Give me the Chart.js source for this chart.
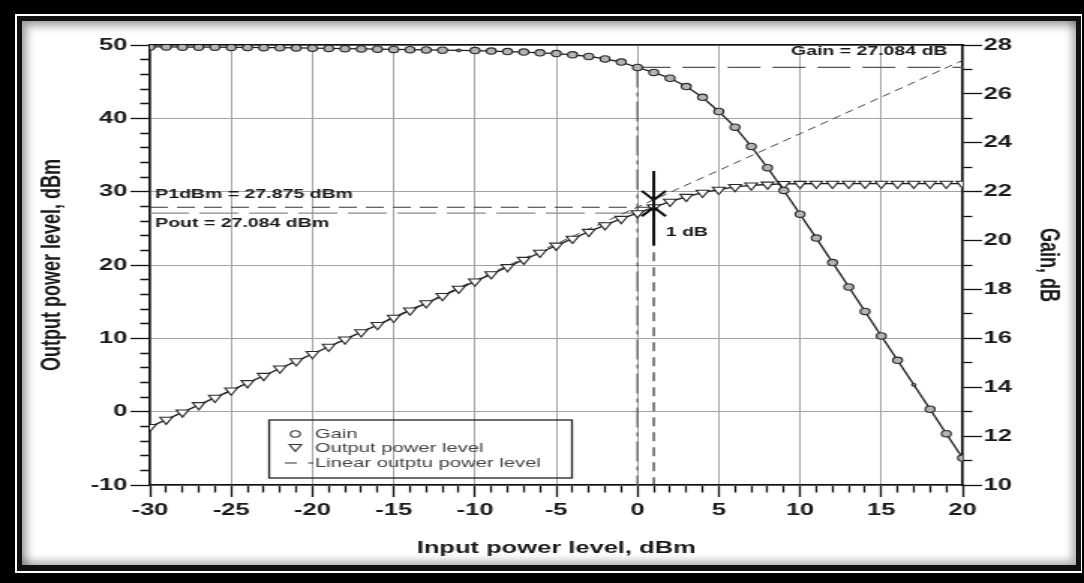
<!DOCTYPE html>
<html>
<head>
<meta charset="utf-8">
<title>Gain and output power vs input power</title>
<script src="https://cdn.jsdelivr.net/npm/chart.js@4.4.0/dist/chart.umd.min.js"></script>
<style>
  html, body { margin: 0; padding: 0; width: 1084px; height: 583px; overflow: hidden; background: #000; }
  #frameOuter { position: absolute; left: 15px; top: 14px; width: 1067px; height: 559px; background: #fff; }
  #framePanel {
    position: absolute; left: 17px; top: 16px; width: 1064px; height: 555px; box-sizing: border-box;
    border: 5px solid #111; border-bottom-width: 6px; background: #fff;
    box-shadow: inset 5px 5px 9px rgba(0,0,0,0.35), inset -4px -4px 8px rgba(0,0,0,0.3);
  }
  /* the source picture is stretched sideways, so the chart is too */
  #chartWrap { position: absolute; left: 0; top: 0; width: 723px; height: 583px; transform: scaleX(1.4993); transform-origin: 0 0; }
</style>
</head>
<body>
<div id="frameOuter"></div>
<div id="framePanel"></div>
<div id="chartWrap"><canvas id="chart" width="723" height="583"></canvas></div>
<script>
// Input power sweep, dBm
const inputPower = [-30, -29, -28, -27, -26, -25, -24, -23, -22, -21, -20, -19, -18, -17, -16, -15, -14, -13, -12, -11,
                    -10, -9, -8, -7, -6, -5, -4, -3, -2, -1, 0, 1, 2, 3, 4, 5, 6, 7, 8, 9,
                    10, 11, 12, 13, 14, 15, 16, 17, 18, 19, 20];
// Gain, dB (right axis)
const gainDb = [27.92, 27.92, 27.91, 27.91, 27.91, 27.90, 27.90, 27.89, 27.89, 27.88, 27.87, 27.86, 27.85, 27.84, 27.83, 27.82, 27.81, 27.80, 27.79, 27.78,
                27.77, 27.75, 27.73, 27.71, 27.68, 27.65, 27.60, 27.53, 27.43, 27.30, 27.08, 26.88, 26.64, 26.30, 25.86, 25.28, 24.64, 23.85, 22.98, 22.05,
                21.08, 20.10, 19.10, 18.10, 17.10, 16.10, 15.10, 14.10, 13.10, 12.10, 11.10];
// Output power level, dBm (left axis)
const outputPower = [-2.08, -1.08, -0.09, 0.91, 1.91, 2.90, 3.90, 4.89, 5.89, 6.88, 7.87, 8.86, 9.85, 10.84, 11.83, 12.82, 13.81, 14.80, 15.79, 16.78,
                     17.77, 18.75, 19.73, 20.71, 21.68, 22.65, 23.60, 24.53, 25.43, 26.30, 27.08, 27.88, 28.64, 29.30, 29.86, 30.28, 30.64, 30.85, 30.98, 31.05,
                     31.08, 31.10, 31.10, 31.10, 31.10, 31.10, 31.10, 31.10, 31.10, 31.10, 31.10];
// Linear (small signal) output line
const linearInput = [-30, 20];
const linearOutput = [-2.1, 47.9];

// 1 dB compression point and reference values at 0 dBm input
const p1dbInput = 1;
const p1dbOutput = 27.875;
const linearAtP1db = 28.875;
const refInput = 0;
const poutAtRef = 27.084;
const gainAtRef = 27.084;

const legendLabels = ['Gain', 'Output power level', 'Linear outptu power level'];

const FONT = "'Liberation Sans', Arial, sans-serif";
Chart.defaults.font.family = FONT;
Chart.defaults.color = '#1a1a1a';

const pts = (xs, ys) => xs.map((v, i) => ({ x: v, y: ys[i] }));
const isMajor = (ctx, every) => ctx.tick && Math.abs(ctx.tick.value % every) < 1e-9;

// major ticks full length, minor ticks cut short with a dash pattern
function tickStyle(every, len, minorLen, fromOuter) {
    return {
        tickLength: len,
        tickColor: '#111',
        tickWidth: 1.3,
        tickBorderDash: (ctx) => {
            if (isMajor(ctx, every)) return [];
            return fromOuter ? [0, len - minorLen, minorLen, 200] : [minorLen, 200];
        }
    };
}

const annotations = {
    id: 'annotations',
    afterDatasetsDraw(chart) {
        const { ctx, chartArea, scales: { x, y, y1 } } = chart;
        ctx.save();
        ctx.fillStyle = '#1a1a1a';
        ctx.font = 'bold 13px ' + FONT;
        ctx.textBaseline = 'middle';
        ctx.textAlign = 'left';
        ctx.fillText('P1dBm = ' + p1dbOutput.toFixed(3) + ' dBm', chartArea.left + 3.5, y.getPixelForValue(p1dbOutput) - 13);
        ctx.fillText('Pout = ' + poutAtRef.toFixed(3) + ' dBm', chartArea.left + 3.5, y.getPixelForValue(poutAtRef) + 10);
        ctx.textAlign = 'right';
        ctx.fillText('Gain = ' + gainAtRef.toFixed(3) + ' dB', chartArea.right - 10, y1.getPixelForValue(gainAtRef) - 16);

        // 1 dB marker
        const mx = x.getPixelForValue(p1dbInput);
        const yLin = y.getPixelForValue(linearAtP1db);
        const yP1 = y.getPixelForValue(p1dbOutput);
        ctx.strokeStyle = '#111';
        ctx.lineWidth = 2;
        ctx.beginPath();
        ctx.moveTo(mx, yLin - 29);
        ctx.lineTo(mx, yP1 + 38);
        ctx.moveTo(mx - 8, yLin - 9);
        ctx.lineTo(mx, yLin);
        ctx.lineTo(mx + 8, yLin - 9);
        ctx.moveTo(mx - 8, yP1 + 9);
        ctx.lineTo(mx, yP1);
        ctx.lineTo(mx + 8, yP1 + 9);
        ctx.stroke();
        ctx.textAlign = 'left';
        ctx.fillText('1 dB', mx + 8, yP1 + 25);
        ctx.restore();
    },
    afterDraw(chart) {
        const { ctx, chartArea } = chart;
        const left = chartArea.left + 79.5, right = chartArea.left + 281.5;
        ctx.save();
        ctx.strokeStyle = '#222';
        ctx.lineWidth = 1.3;
        ctx.strokeRect(left, 420, right - left, 58);

        const sx = left + 17.5;
        ctx.strokeStyle = '#333';
        ctx.lineWidth = 1.1;
        ctx.beginPath();
        ctx.arc(sx, 434, 3.2, 0, Math.PI * 2);
        ctx.stroke();
        ctx.beginPath();
        ctx.moveTo(sx - 4, 444.5);
        ctx.lineTo(sx + 4, 444.5);
        ctx.lineTo(sx, 451.5);
        ctx.closePath();
        ctx.stroke();
        ctx.beginPath();
        ctx.moveTo(sx - 7, 463);
        ctx.lineTo(sx + 1, 463);
        ctx.moveTo(sx + 8.5, 463);
        ctx.lineTo(sx + 12, 463);
        ctx.stroke();

        ctx.fillStyle = '#444';
        ctx.font = '13.5px ' + FONT;
        ctx.textBaseline = 'middle';
        ctx.fillText(legendLabels[0], sx + 13, 434);
        ctx.fillText(legendLabels[1], sx + 13, 448);
        ctx.fillText(legendLabels[2], sx + 13, 463);
        ctx.restore();
    }
};

const guide = (data, axis, color, width, dash) => ({
    data: data, yAxisID: axis, borderColor: color, borderWidth: width, borderDash: dash, pointRadius: 0
});

new Chart(document.getElementById('chart'), {
    type: 'line',
    data: {
        datasets: [
            {
                label: legendLabels[0],
                data: pts(inputPower, gainDb),
                yAxisID: 'y1',
                borderColor: '#1e1e1e',
                borderWidth: 1.3,
                pointStyle: 'circle',
                pointRadius: inputPower.map(v => (v === -11 || v === 17) ? 1.3 : 3.2),
                pointBorderColor: '#2a2a2a',
                pointBackgroundColor: '#b4b4b4',
                pointBorderWidth: 1.1
            },
            {
                label: legendLabels[1],
                data: pts(inputPower, outputPower),
                yAxisID: 'y',
                borderColor: '#1e1e1e',
                borderWidth: 1.3,
                pointStyle: 'triangle',
                pointRotation: 180,
                pointRadius: 4.8,
                pointBorderColor: '#2a2a2a',
                pointBackgroundColor: '#fff',
                pointBorderWidth: 1.1
            },
            guide(pts(linearInput, linearOutput), 'y', '#444', 1, [6, 4]),
            guide([{ x: refInput, y: gainAtRef }, { x: 20, y: gainAtRef }], 'y1', '#555', 1.3, [22, 8]),
            guide([{ x: refInput, y: gainAtRef }, { x: refInput, y: 10 }], 'y1', '#666', 1.4, [20, 5, 4, 5]),
            guide([{ x: p1dbInput, y: p1dbOutput }, { x: p1dbInput, y: -10 }], 'y', '#222', 1.1, [9, 6]),
            guide([{ x: -30, y: p1dbOutput }, { x: p1dbInput, y: p1dbOutput }], 'y', '#333', 1.2, [12, 6]),
            guide([{ x: -30, y: poutAtRef }, { x: refInput, y: poutAtRef }], 'y', '#8a8a8a', 1.3, [26, 7])
        ]
    },
    options: {
        responsive: false,
        animation: false,
        devicePixelRatio: 1,
        events: [],
        layout: { padding: { top: 45, left: 0, right: 0, bottom: 0 } },
        plugins: { legend: { display: false }, tooltip: { enabled: false } },
        scales: {
            x: {
                type: 'linear', position: 'bottom', min: -30, max: 20,
                afterFit: (s) => { s.height = 98; },
                ticks: {
                    stepSize: 1, autoSkip: false, maxRotation: 0, padding: 3,
                    font: { size: 17, weight: 'bold' },
                    callback: (v) => v % 5 === 0 ? v : ''
                },
                grid: Object.assign({
                    color: (c) => isMajor(c, 5) ? '#a3a3a3' : 'rgba(0,0,0,0)',
                    lineWidth: 1
                }, tickStyle(5, 12, 7, false)),
                border: { color: '#111', width: 1.5 },
                title: {
                    display: true, text: 'Input power level, dBm',
                    font: { size: 17, weight: 'bold' }, padding: { top: 0, bottom: 24 }
                }
            },
            xTop: {
                type: 'linear', position: 'top', min: -30, max: 20,
                afterFit: (s) => { s.height = 0; },
                ticks: { display: false },
                grid: { drawOnChartArea: false, drawTicks: false },
                border: { color: '#111', width: 1.5 }
            },
            y: {
                type: 'linear', position: 'left', min: -10, max: 50,
                afterFit: (s) => { s.width = 100; },
                ticks: {
                    stepSize: 2, autoSkip: false, padding: 2,
                    font: { size: 17, weight: 'bold' },
                    callback: (v) => v % 10 === 0 ? v : ''
                },
                grid: Object.assign({
                    color: (c) => isMajor(c, 10) ? '#a3a3a3' : 'rgba(0,0,0,0)',
                    lineWidth: 1
                }, tickStyle(10, 13, 6.5, true)),
                border: { color: '#111', width: 1.5 },
                title: {
                    display: true, text: 'Output power level, dBm',
                    font: { size: 18, weight: 'bold' }, padding: { top: 24, bottom: 0 }
                }
            },
            y1: {
                type: 'linear', position: 'right', min: 10, max: 28,
                afterFit: (s) => { s.width = 81; },
                ticks: {
                    stepSize: 1, autoSkip: false, padding: 1,
                    font: { size: 17, weight: 'bold' },
                    callback: (v) => v % 2 === 0 ? v : ''
                },
                grid: Object.assign({ drawOnChartArea: false }, tickStyle(2, 13, 6, false)),
                border: { color: '#111', width: 1.5 },
                title: {
                    display: true, text: 'Gain, dB',
                    font: { size: 18, weight: 'bold' }, padding: { top: 13, bottom: 0 }
                }
            }
        }
    },
    plugins: [annotations]
});
</script>
</body>
</html>
